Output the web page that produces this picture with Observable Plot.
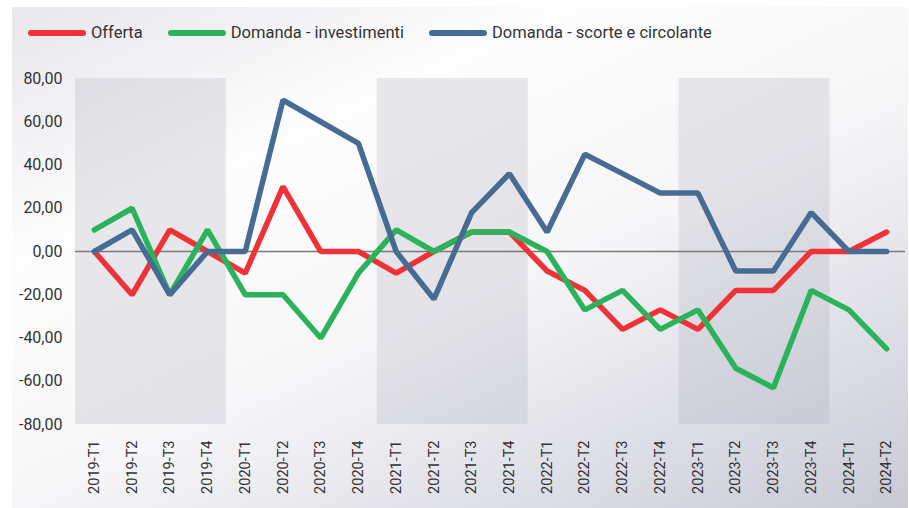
<!DOCTYPE html>
<html>
<head>
<meta charset="utf-8">
<script src="https://cdn.jsdelivr.net/npm/d3@7"></script>
<script src="https://cdn.jsdelivr.net/npm/@observablehq/plot@0.6"></script>
<style>
  body { margin: 0; background: #ffffff; font-family: Roboto, "Noto Sans", sans-serif; }
  #wrap { position: relative; width: 909px; height: 508px; overflow: hidden; }
  #panel { position: absolute; left: 12px; top: 7px; width: 896px; height: 501px;
    background: linear-gradient(155deg, #e7e7ec 0%, #fdfdfd 28%, #f6f6f8 55%, #c9cad6 100%); }
  #legend { position: absolute; left: 28px; top: 23px; display: flex; align-items: center;
    font-size: 16.5px; color: #333; }
  .item { display: flex; align-items: center; margin-right: 25px; }
  .swatch { width: 58px; height: 6px; border-radius: 3px; margin-right: 5px; }
  #chart { position: absolute; left: 0; top: 60px; }
</style>
</head>
<body>
<div id="wrap">
  <div id="panel"></div>
  <div id="legend"></div>
  <div id="chart"></div>
</div>
<script>
const categories = ["2019-T1","2019-T2","2019-T3","2019-T4","2020-T1","2020-T2","2020-T3","2020-T4",
  "2021-T1","2021-T2","2021-T3","2021-T4","2022-T1","2022-T2","2022-T3","2022-T4",
  "2023-T1","2023-T2","2023-T3","2023-T4","2024-T1","2024-T2"];
const offerta      = [0, -20, 10, 0, -10, 30, 0, 0, -10, 0, 9, 9, -9, -18, -36, -27, -36, -18, -18, 0, 0, 9];
const investimenti = [10, 20, -20, 10, -20, -20, -40, -10, 10, 0, 9, 9, 0, -27, -18, -36, -27, -54, -63, -18, -27, -45];
const scorte       = [0, 10, -20, 0, 0, 70, 60, 50, 0, -22, 18, 36, 9, 45, 36, 27, 27, -9, -9, 18, 0, 0];
const seriesNames  = ["Offerta", "Domanda - investimenti", "Domanda - scorte e circolante"];
const seriesColors = ["#ee3237", "#2bb35b", "#466c94"];
const yTicks = [-80, -60, -40, -20, 0, 20, 40, 60, 80];
const shadedYears = ["2019", "2021", "2023"];

const seriesValues = [offerta, investimenti, scorte];
const data = [];
seriesValues.forEach((vals, s) => vals.forEach((v, i) => data.push({cat: categories[i], value: v, series: seriesNames[s]})));
const shaded = categories.filter(c => shadedYears.includes(c.slice(0, 4)));

// legend
const legend = document.getElementById("legend");
seriesNames.forEach((n, i) => {
  const it = document.createElement("div");
  it.className = "item";
  it.innerHTML = `<div class="swatch" style="background:${seriesColors[i]}"></div><span>${n}</span>`;
  legend.appendChild(it);
});

const chart = Plot.plot({
  width: 909,
  height: 448,
  marginLeft: 75,
  marginRight: 4,
  marginTop: 18,
  marginBottom: 84,
  style: {background: "transparent", fontSize: "16px", fontFamily: "Roboto, 'Noto Sans', sans-serif", color: "#333", overflow: "visible"},
  x: {type: "band", domain: categories, padding: 0, round: false, tickRotate: -90, tickSize: 0, tickPadding: 16, label: null},
  y: {domain: [-80, 80], ticks: yTicks, tickSize: 0, tickPadding: 13, label: null,
      tickFormat: d => d.toFixed(2).replace(".", ",")},
  color: {domain: seriesNames, range: seriesColors},
  marks: [
    Plot.barY(shaded, {x: d => d, y1: -80, y2: 80, fill: "#a8a8b8", fillOpacity: 0.25}),
    Plot.ruleY([0], {stroke: "#7a7a7a", strokeWidth: 1.5}),
    Plot.line(data, {x: "cat", y: "value", z: "series", stroke: "series", strokeWidth: 5.5,
      strokeLinecap: "round", strokeLinejoin: "miter"})
  ]
});
document.getElementById("chart").appendChild(chart);
d3.select(chart).selectAll('g[aria-label^="x-axis"] text').attr("font-size", 14.5);
</script>
</body>
</html>
